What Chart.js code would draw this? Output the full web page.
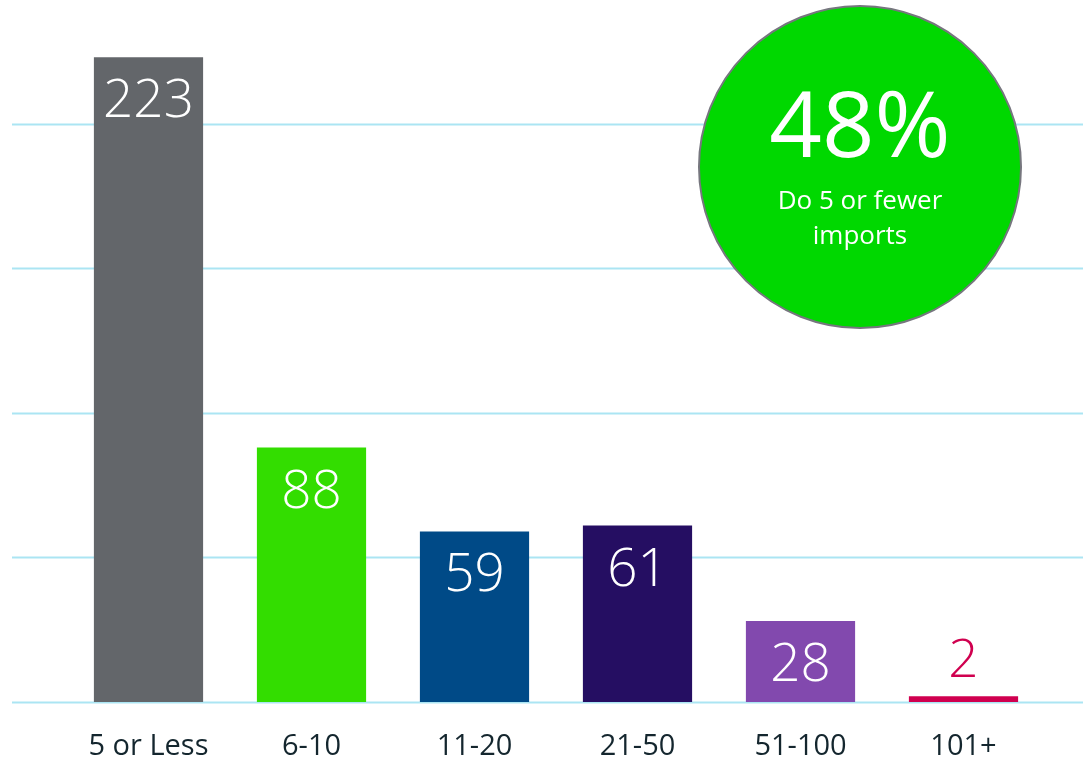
<!DOCTYPE html>
<html>
<head>
<meta charset="utf-8">
<title>Imports per customer</title>
<script src="https://cdn.jsdelivr.net/npm/chart.js@4.4.1/dist/chart.umd.min.js"></script>
<style>
  html, body { margin: 0; padding: 0; background: #fff; }
  #wrap { width: 1083px; height: 758px; position: relative; }
</style>
</head>
<body>
<div id="wrap"><canvas id="importsChart"></canvas></div>
<script>
// Number of imports bucket -> number of respondents
const categories = ["5 or Less", "6-10", "11-20", "21-50", "51-100", "101+"];
const counts = [223, 88, 59, 61, 28, 2];
const barColors = ["#63666a", "#33dd00", "#004a87", "#250e62", "#8249ae", "#d0004f"];
const gridValues = [0, 50, 100, 150, 200];

const calloutValue = "48%";
const calloutLines = ["Do 5 or fewer", "imports"];

// Horizontal guide lines run the full width of the canvas, not just the plot area
const wideGrid = {
    id: "wideGrid",
    beforeDatasetsDraw(chart) {
        const ctx = chart.ctx;
        const y = chart.scales.y;
        ctx.save();
        ctx.strokeStyle = "#abe5f3";
        ctx.lineWidth = 2;
        gridValues.forEach(v => {
            const py = Math.round(y.getPixelForValue(v)) + 0.5;
            ctx.beginPath();
            ctx.moveTo(12, py);
            ctx.lineTo(chart.width, py);
            ctx.stroke();
        });
        ctx.restore();
    }
};

// Value labels: inside the top of the bar, or above it when the bar is too short
const barLabels = {
    id: "barLabels",
    afterDatasetsDraw(chart) {
        const ctx = chart.ctx;
        const meta = chart.getDatasetMeta(0);
        ctx.save();
        ctx.font = "300 53px 'Open Sans', sans-serif";
        ctx.textAlign = "center";
        ctx.textBaseline = "middle";
        meta.data.forEach((bar, i) => {
            const h = bar.base - bar.y;
            if (h > 70) {
                ctx.fillStyle = "#ffffff";
                ctx.fillText(String(counts[i]), bar.x, bar.y + 45);
            } else {
                ctx.fillStyle = barColors[i];
                ctx.fillText(String(counts[i]), bar.x, bar.y - 34);
            }
        });
        ctx.restore();
    }
};

// Green summary bubble in the top right
const callout = {
    id: "callout",
    afterDraw(chart) {
        const ctx = chart.ctx;
        const cx = 860, cy = 167, r = 161;
        ctx.save();
        ctx.beginPath();
        ctx.arc(cx, cy, r, 0, Math.PI * 2);
        ctx.fillStyle = "#00d800";
        ctx.fill();
        ctx.lineWidth = 2;
        ctx.strokeStyle = "#76767e";
        ctx.stroke();

        ctx.fillStyle = "#ffffff";
        ctx.textAlign = "center";
        ctx.textBaseline = "middle";
        ctx.font = "500 92px 'Open Sans', sans-serif";
        ctx.fillText(calloutValue, cx, cy - 36);
        ctx.font = "400 26px 'Open Sans', sans-serif";
        ctx.fillText(calloutLines[0], cx, cy + 35);
        ctx.fillText(calloutLines[1], cx, cy + 70);
        ctx.restore();
    }
};

const ctx = document.getElementById("importsChart").getContext("2d");
const importsChart = new Chart(ctx, {
    type: "bar",
    data: {
        labels: categories,
        datasets: [{
            data: counts,
            backgroundColor: barColors,
            borderWidth: 0,
            barPercentage: 0.67,
            categoryPercentage: 1.0
        }]
    },
    options: {
        responsive: true,
        maintainAspectRatio: false,
        animation: false,
        layout: { padding: { left: 67, right: 38, top: 8, bottom: 0 } },
        plugins: {
            legend: { display: false },
            tooltip: { enabled: false }
        },
        scales: {
            x: {
                grid: { display: false },
                border: { display: false },
                ticks: {
                    color: "#14262e",
                    font: { family: "'Open Sans', sans-serif", size: 29 },
                    padding: 19
                },
                afterFit(scale) { scale.height = 56; }
            },
            y: {
                display: false,
                min: 0,
                max: 240
            }
        }
    },
    plugins: [wideGrid, barLabels, callout]
});
</script>
</body>
</html>
